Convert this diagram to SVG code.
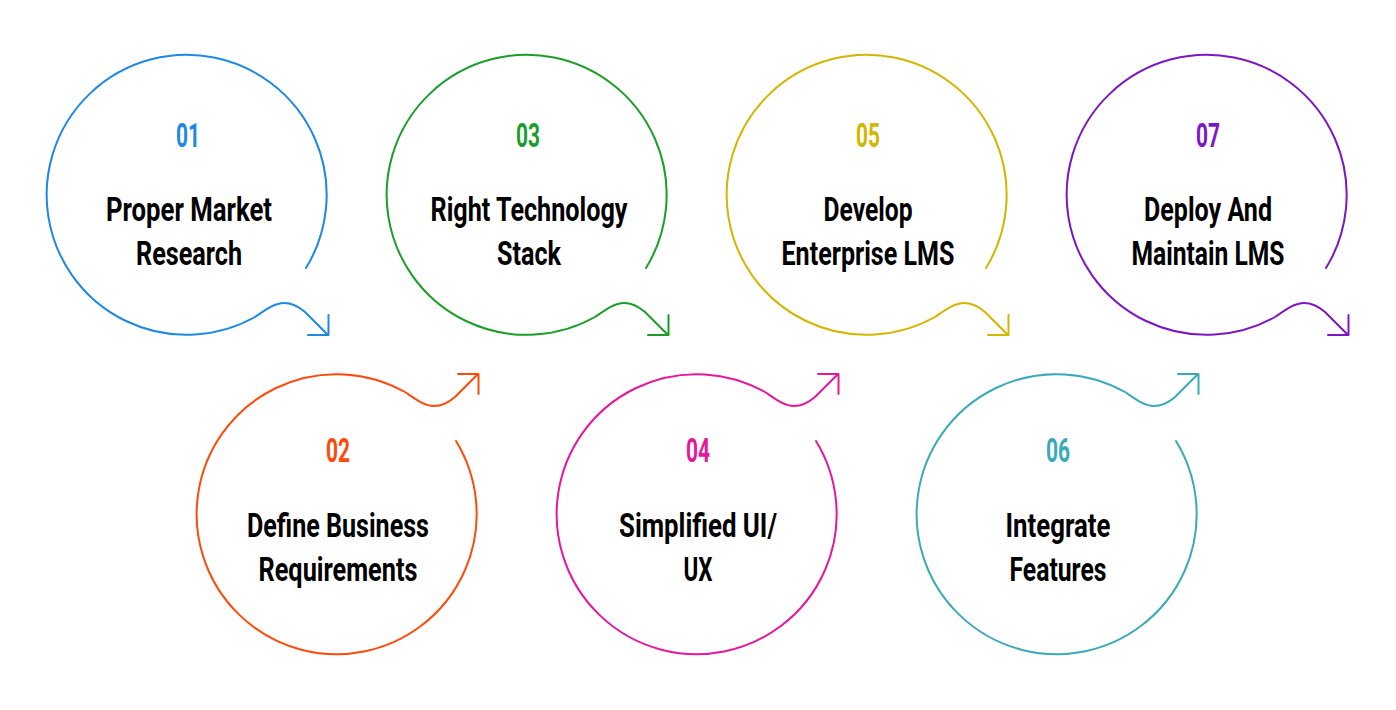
<svg xmlns="http://www.w3.org/2000/svg" width="1396" height="710" viewBox="0 0 1396 710">
<defs>
<style>
.ring{fill:none;stroke-width:2;stroke-linecap:round;stroke-linejoin:round}
.num{font-family:Roboto,"Liberation Sans",sans-serif;font-weight:700;font-size:33px;text-anchor:middle}
.lbl{font-family:Roboto,"Liberation Sans",sans-serif;font-weight:700;font-size:33px;text-anchor:middle;fill:#000}
</style>
<path id="ringShape" d="M 118 74 A 140 140 0 1 0 67 123 C 76 117 86 109 96 109 C 104 109 110 112 117 118 L 140 141 M 120 141 H 140.5 V 121"/>
</defs>
<rect width="1396" height="710" fill="#fff"/>
<g id="connectors">
<use href="#ringShape" class="ring" stroke="#1E88E5" transform="translate(188,194)"/>
<use href="#ringShape" class="ring" stroke="#FF4A0A" transform="translate(338,515) scale(1,-1)"/>
<use href="#ringShape" class="ring" stroke="#1A9E2A" transform="translate(528,194)"/>
<use href="#ringShape" class="ring" stroke="#E6179A" transform="translate(698,515) scale(1,-1)"/>
<use href="#ringShape" class="ring" stroke="#D4B500" transform="translate(868,194)"/>
<use href="#ringShape" class="ring" stroke="#3AAAB8" transform="translate(1058,515) scale(1,-1)"/>
<use href="#ringShape" class="ring" stroke="#7B17C4" transform="translate(1208,194)"/>
</g>
<g id="node1">
<text class="num" x="188" y="147" fill="#1E88E5" textLength="24" lengthAdjust="spacingAndGlyphs">01</text>
<text class="lbl" x="189" y="221" textLength="166" lengthAdjust="spacingAndGlyphs">Proper Market</text>
<text class="lbl" x="189" y="265" textLength="106" lengthAdjust="spacingAndGlyphs">Research</text>
</g>
<g id="node2">
<text class="num" x="338" y="462" fill="#FF4A0A" textLength="24" lengthAdjust="spacingAndGlyphs">02</text>
<text class="lbl" x="338" y="537" textLength="182" lengthAdjust="spacingAndGlyphs">Define Business</text>
<text class="lbl" x="338" y="581" textLength="159" lengthAdjust="spacingAndGlyphs">Requirements</text>
</g>
<g id="node3">
<text class="num" x="528" y="147" fill="#1A9E2A" textLength="24" lengthAdjust="spacingAndGlyphs">03</text>
<text class="lbl" x="529" y="221" textLength="197" lengthAdjust="spacingAndGlyphs">Right Technology</text>
<text class="lbl" x="529" y="265" textLength="64" lengthAdjust="spacingAndGlyphs">Stack</text>
</g>
<g id="node4">
<text class="num" x="698" y="462" fill="#E6179A" textLength="24" lengthAdjust="spacingAndGlyphs">04</text>
<text class="lbl" x="698" y="537" textLength="158" lengthAdjust="spacingAndGlyphs">Simplified UI/</text>
<text class="lbl" x="698" y="581" textLength="29" lengthAdjust="spacingAndGlyphs">UX</text>
</g>
<g id="node5">
<text class="num" x="868" y="147" fill="#D4B500" textLength="24" lengthAdjust="spacingAndGlyphs">05</text>
<text class="lbl" x="868" y="221" textLength="89" lengthAdjust="spacingAndGlyphs">Develop</text>
<text class="lbl" x="868" y="265" textLength="173" lengthAdjust="spacingAndGlyphs">Enterprise LMS</text>
</g>
<g id="node6">
<text class="num" x="1058" y="462" fill="#3AAAB8" textLength="24" lengthAdjust="spacingAndGlyphs">06</text>
<text class="lbl" x="1058" y="537" textLength="105" lengthAdjust="spacingAndGlyphs">Integrate</text>
<text class="lbl" x="1058" y="581" textLength="97" lengthAdjust="spacingAndGlyphs">Features</text>
</g>
<g id="node7">
<text class="num" x="1208" y="147" fill="#7B17C4" textLength="24" lengthAdjust="spacingAndGlyphs">07</text>
<text class="lbl" x="1208" y="221" textLength="128" lengthAdjust="spacingAndGlyphs">Deploy And</text>
<text class="lbl" x="1208" y="265" textLength="153" lengthAdjust="spacingAndGlyphs">Maintain LMS</text>
</g>
</svg>
